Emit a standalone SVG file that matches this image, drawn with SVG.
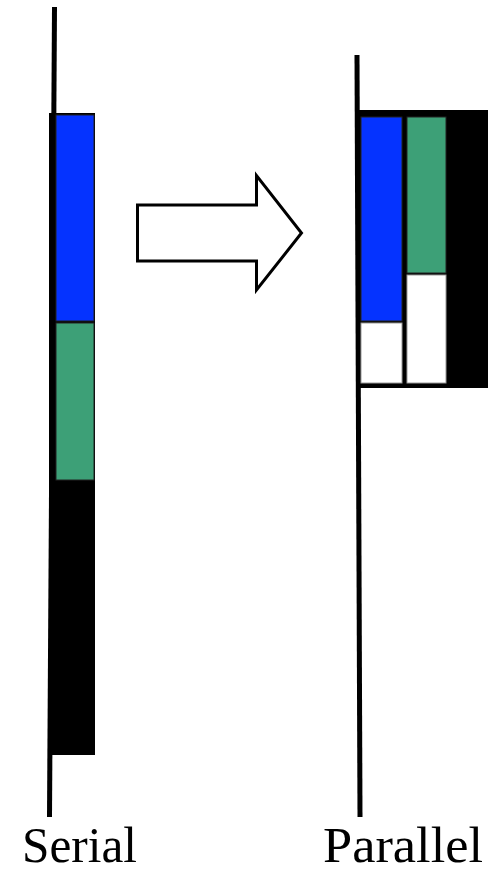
<svg xmlns="http://www.w3.org/2000/svg" width="488" height="873" viewBox="0 0 488 873">
<style>
.axis{stroke:#000;stroke-width:5;fill:none}
.blk{fill:#000}
.blue{fill:#0533ff;stroke:#222;stroke-width:1}
.green{fill:#3da077;stroke:#222;stroke-width:1}
.wht{fill:#fff;stroke:#999;stroke-width:1}
.lbl{font-family:"Liberation Serif","Times New Roman",serif;font-size:50px;fill:#000}
</style>
<g id="serial">
<line class="axis" x1="54.5" y1="7" x2="49.5" y2="817"/>
<rect class="blk" x="49" y="113" width="46" height="642"/>
<rect class="blue" x="56" y="115" width="38" height="206"/>
<rect class="green" x="56" y="323" width="38" height="157"/>
<text class="lbl" x="22" y="862" textLength="115" lengthAdjust="spacingAndGlyphs">Serial</text>
</g>
<g id="arrow">
<polygon points="137.5,205 256.5,205 256.5,175.5 301.5,233 256.5,290 256.5,261 137.5,261" fill="#fff" stroke="#000" stroke-width="3" stroke-linejoin="miter"/>
</g>
<g id="parallel">
<line class="axis" x1="357" y1="55" x2="360" y2="817"/>
<rect class="blk" x="357" y="110" width="131" height="278"/>
<rect class="blue" x="361" y="117" width="41" height="204"/>
<rect class="wht" x="361" y="323" width="41" height="60"/>
<rect class="green" x="407" y="117" width="39" height="156"/>
<rect class="wht" x="407" y="275" width="39" height="108"/>
<text class="lbl" x="323" y="862" textLength="160" lengthAdjust="spacingAndGlyphs">Parallel</text>
</g>
</svg>
